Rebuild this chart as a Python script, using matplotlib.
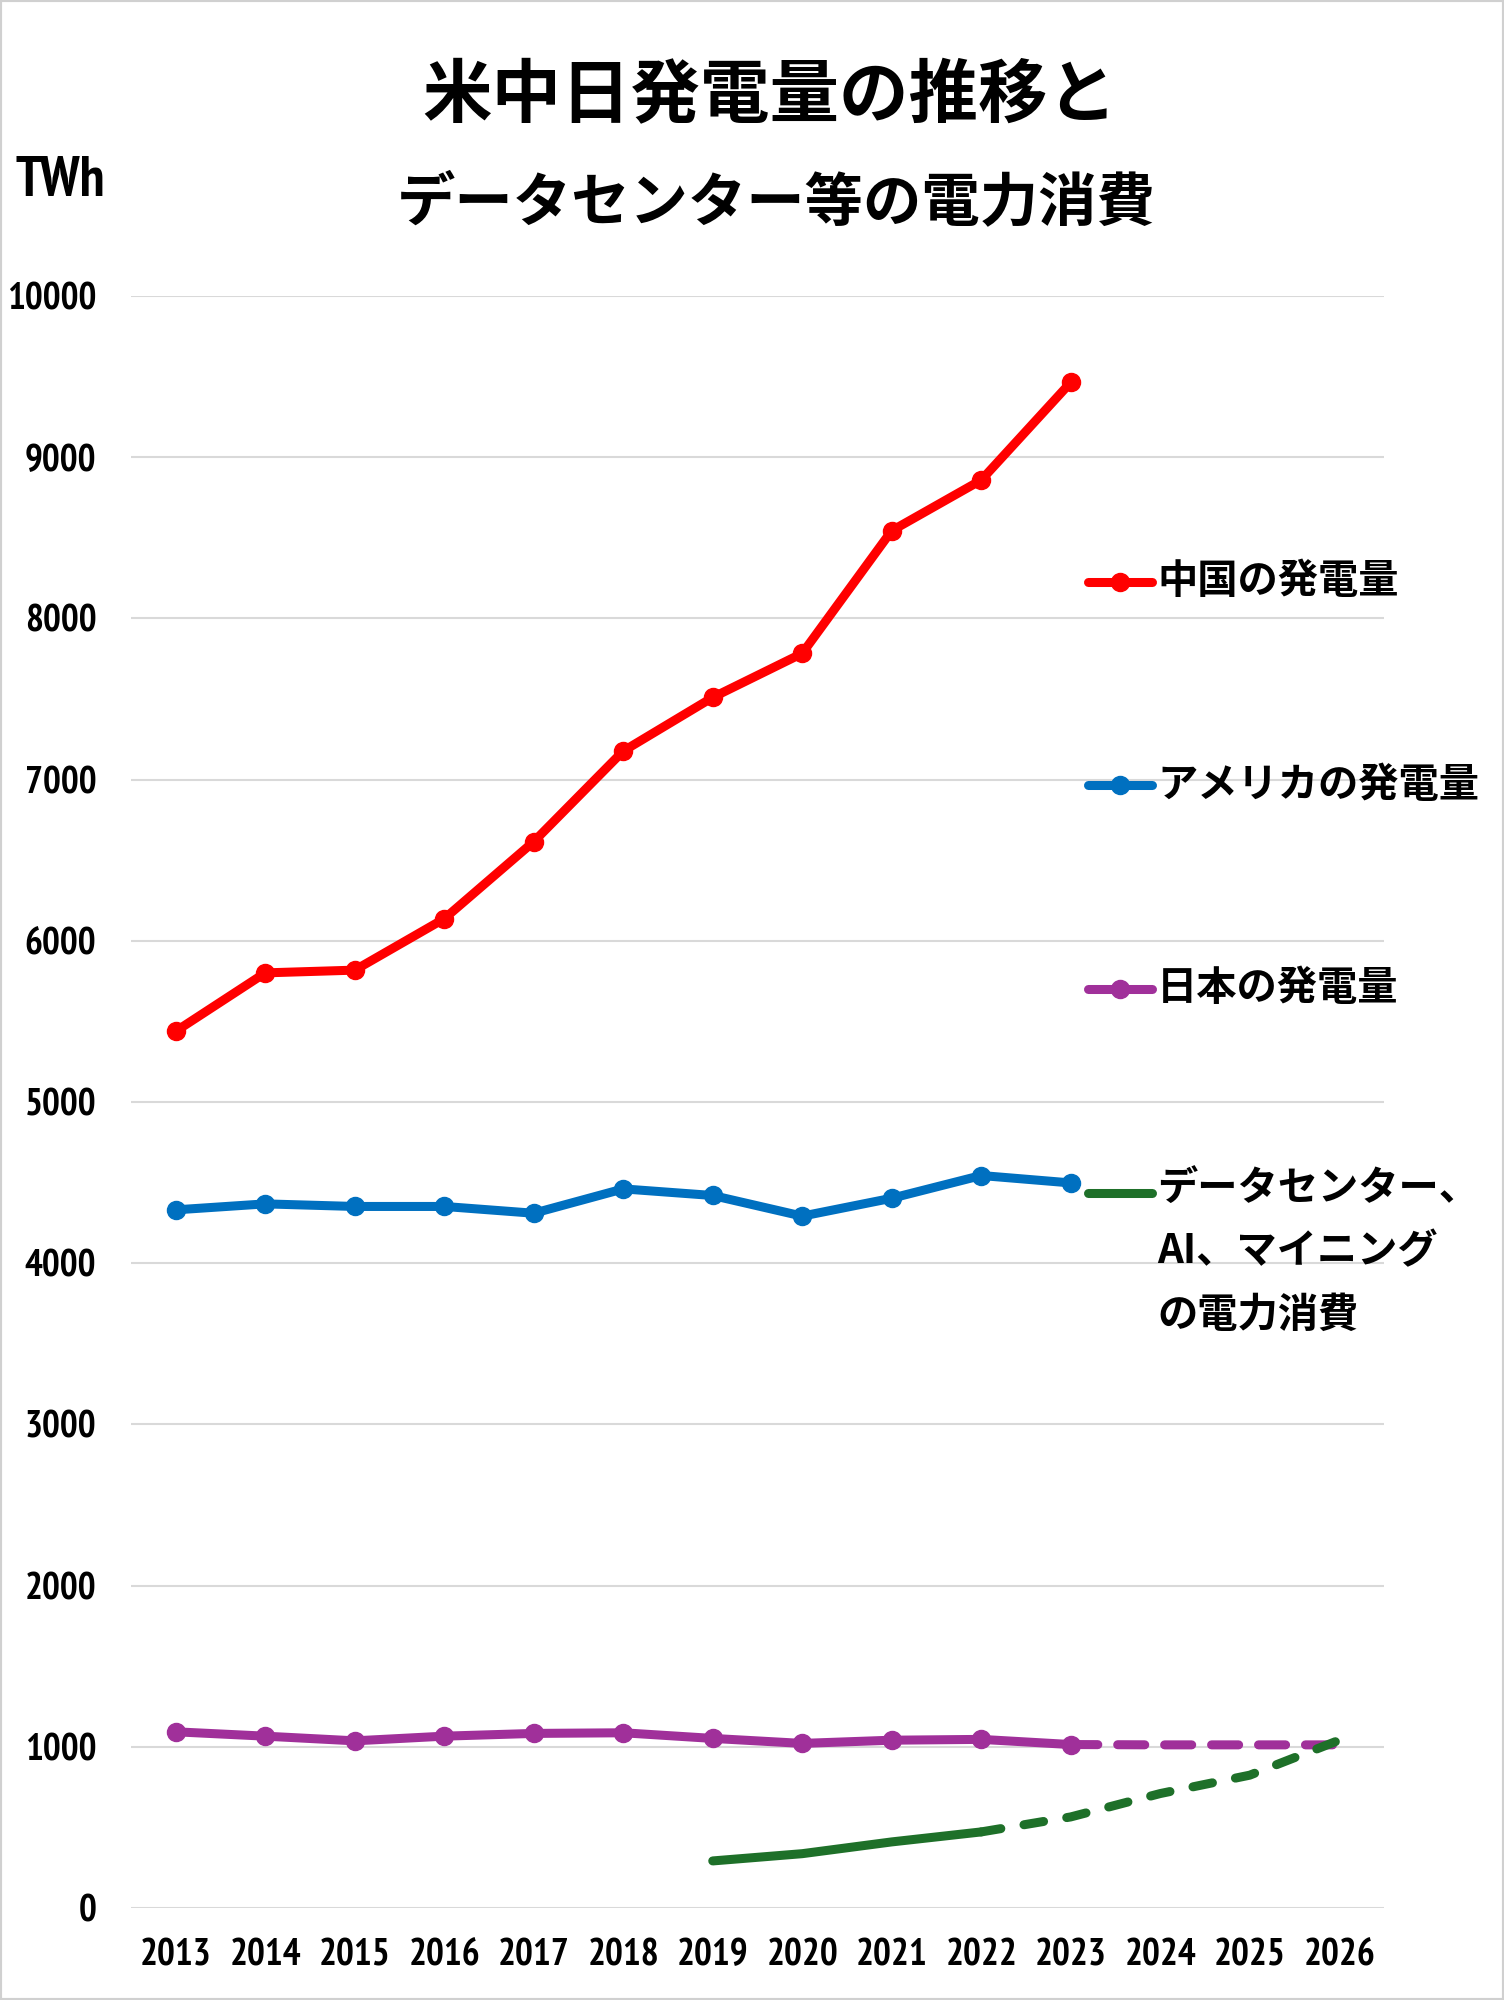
import matplotlib
matplotlib.use("Agg")
import matplotlib.pyplot as plt
from matplotlib import font_manager
from matplotlib.lines import Line2D
from matplotlib.patches import Rectangle

years = ["2013", "2014", "2015", "2016", "2017", "2018", "2019",
         "2020", "2021", "2022", "2023", "2024", "2025", "2026"]
china = [5439, 5801, 5818, 6137, 6615, 7177, 7510, 7783, 8544, 8858, 9464]
usa = [4331, 4368, 4352, 4352, 4310, 4461, 4420, 4292, 4403, 4544, 4498]
japan = [1093, 1066, 1037, 1066, 1083, 1087, 1052, 1021, 1041, 1046, 1014]
japan_proj_years = ["2023", "2024", "2025", "2026"]
japan_proj = [1014, 1012, 1012, 1012]
dc_years = ["2019", "2020", "2021", "2022"]
dc = [292, 337, 410, 472]
dc_proj_years = ["2022", "2023", "2024", "2025", "2026"]
dc_proj = [472, 565, 710, 824, 1041]
yticks = [0, 1000, 2000, 3000, 4000, 5000, 6000, 7000, 8000, 9000, 10000]

legend_labels = ["中国の発電量", "アメリカの発電量", "日本の発電量",
                 "データセンター、\nAI、マイニング\nの電力消費"]

# pick a condensed bold sans for numbers (Arial Narrow look)
fonts = font_manager.fontManager.ttflist
names = {f.name for f in fonts}
cands = ["Liberation Sans Narrow", "PT Sans Narrow", "Roboto Condensed",
         "Asap Condensed", "Archivo Narrow", "Open Sans Condensed"]
num_family = None
for c in cands:
    if any(f.name == c and int(f.weight) >= 600 if str(f.weight).isdigit() else False
           for f in fonts):
        num_family = c
        break
if num_family is None:
    for c in cands:
        if c in names:
            num_family = c
            break
NUM = ([num_family] if num_family else []) + ["Liberation Sans", "DejaVu Sans"]
JP = ["Noto Sans CJK JP", "DejaVu Sans"]

C_RED = "#FF0000"
C_BLUE = "#0070C0"
C_PURP = "#A0309A"
C_GREEN = "#1E7029"

fig = plt.figure(figsize=(15.04, 20), dpi=100)
fig.patches.append(Rectangle((0, 0), 1, 1, transform=fig.transFigure,
                             fill=False, edgecolor="#D0D0D0", linewidth=3))
ax = fig.add_axes([0.0871, 0.046, 0.8331, 0.806])
xi = {y: i for i, y in enumerate(years)}

lw = 6.5
ms = 13
ax.plot([xi[y] for y in years[:len(china)]], china, color=C_RED, lw=lw,
        marker="o", ms=ms, solid_capstyle="round", zorder=5)
ax.plot([xi[y] for y in years[:len(usa)]], usa, color=C_BLUE, lw=lw,
        marker="o", ms=ms, solid_capstyle="round", zorder=5)
ax.plot([xi[y] for y in years[:len(japan)]], japan, color=C_PURP, lw=lw,
        marker="o", ms=ms, solid_capstyle="round", zorder=5)
ax.plot([xi[y] for y in japan_proj_years], japan_proj, color=C_PURP, lw=lw,
        dashes=(3.0, 2.2), dash_capstyle="round", zorder=4)
ax.plot([xi[y] for y in dc_years], dc, color=C_GREEN, lw=lw,
        solid_capstyle="round", zorder=4)
ax.plot([xi[y] for y in dc_proj_years], dc_proj, color=C_GREEN, lw=lw,
        dashes=(2.2, 2.6), dash_capstyle="round", zorder=4)

ax.set_xlim(-0.5, len(years) - 0.5)
ax.set_ylim(0, 10000)
ax.set_xticks(range(len(years)))
ax.set_xticklabels(years)
ax.set_yticks(yticks)
ax.set_yticklabels([str(v) for v in yticks])
for lab in ax.get_xticklabels() + ax.get_yticklabels():
    lab.set_fontfamily(NUM)
    lab.set_fontweight("bold")
    lab.set_fontsize(27)
ax.tick_params(axis="x", length=0, pad=22)
ax.tick_params(axis="y", length=0, pad=25)
for s in ax.spines.values():
    s.set_visible(False)
ax.grid(axis="y", color="#D9D9D9", lw=1.5)
ax.set_axisbelow(True)

# Titles
fig.text(0.512, 1 - 97 / 2000, "米中日発電量の推移と", ha="center", va="center",
         fontsize=50, fontweight="bold", family=JP)
fig.text(0.516, 1 - 203 / 2000, "データセンター等の電力消費", ha="center", va="center",
         fontsize=42, fontweight="bold", family=JP)
fig.text(0.010, 1 - 181 / 2000, "TWh", ha="left", va="center",
         fontsize=40, fontweight="bold", family=NUM)

# Legend (custom, right side)
leg_colors = [C_RED, C_BLUE, C_PURP, C_GREEN]
leg_markers = ["o", "o", "o", None]
leg_y = [582, 785, 989, 1193]
x0, x1, xm, xt = 1088 / 1504, 1152 / 1504, 1120 / 1504, 1157 / 1504
for lab, col, mk, yy in zip(legend_labels, leg_colors, leg_markers, leg_y):
    yf = 1 - yy / 2000
    fig.add_artist(Line2D([x0, x1], [yf, yf], transform=fig.transFigure,
                          color=col, lw=lw, solid_capstyle="round"))
    if mk:
        fig.add_artist(Line2D([xm], [yf], transform=fig.transFigure,
                              color=col, marker=mk, ms=ms, lw=0))
    fig.text(xt, yf, lab, ha="left", va="top" if "\n" in lab else "center",
             fontsize=29, fontweight="bold", family=JP, linespacing=1.7)

# multi-line label: first line centred on its legend line
fig.texts[-1].set_y(1 - (1193 - 25) / 2000)

fig.savefig("out.png", dpi=100, facecolor="white")
